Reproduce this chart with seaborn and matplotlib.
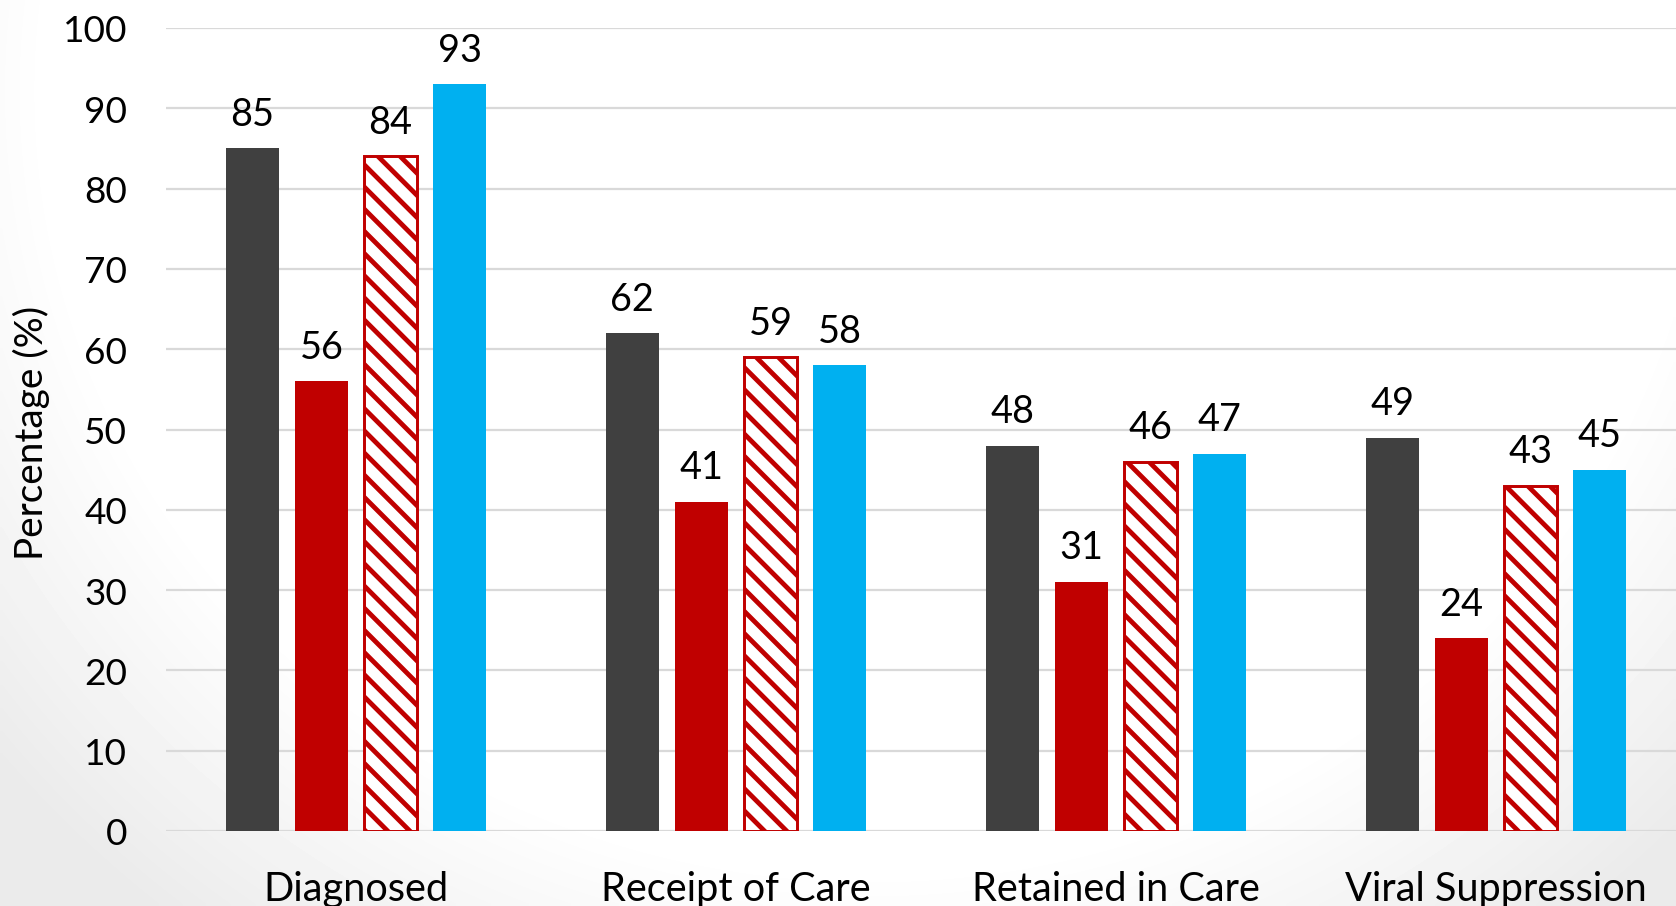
import numpy as np
import pandas as pd
import matplotlib
matplotlib.use("Agg")
import matplotlib.pyplot as plt
import seaborn as sns

# HIV care continuum stages and the percentage for each population group
stages = ["Diagnosed", "Receipt of Care", "Retained in Care", "Viral Suppression"]
groups = ["Group A", "Group B", "Group C", "Group D"]
group_a = [85, 62, 48, 49]
group_b = [56, 41, 31, 24]
group_c = [84, 59, 46, 43]
group_d = [93, 58, 47, 45]
y_ticks = [0, 10, 20, 30, 40, 50, 60, 70, 80, 90, 100]

face_colors = ["#404040", "#C00000", "#FFFFFF", "#00B0F0"]
red = "#C00000"

df = pd.DataFrame({
    "stage": stages * 4,
    "group": [g for g in groups for _ in stages],
    "pct": group_a + group_b + group_c + group_d,
})

sns.set_theme(style="white")
plt.rcParams["font.family"] = ["Lato", "DejaVu Sans"]
plt.rcParams["hatch.linewidth"] = 2.6
plt.rcParams["hatch.color"] = red

DPI = 133
W, H = 1676, 907
fig = plt.figure(figsize=(W / DPI, H / DPI), dpi=DPI)

# soft slide-style shading toward the lower corners
bg = fig.add_axes([0, 0, 1, 1], zorder=-10)
yy, xx = np.mgrid[0:1:200j, 0:1:360j]
d = np.sqrt(((xx - 0.52) / 0.60) ** 2 + ((yy - 0.10) / 1.05) ** 2)
shade = 1 - 0.08 * np.clip((d - 0.82) / 0.30, 0, 1)
bg.imshow(shade, cmap="gray", vmin=0, vmax=1, extent=[0, 1, 1, 0],
          aspect="auto", interpolation="bilinear")
bg.set_axis_off()

ax = fig.add_axes([166 / W, 1 - 832 / H, 1 - 166 / W, (832 - 29) / H])

sns.barplot(data=df, x="stage", y="pct", hue="group", order=stages,
            hue_order=groups, palette=face_colors, saturation=1,
            width=0.727, gap=0.23, legend=False, ax=ax)

for i, cont in enumerate(ax.containers):
    for bar in cont:
        bar.set_facecolor(face_colors[i])
        if i == 2:
            bar.set_edgecolor(red)
            bar.set_linewidth(1.6)
            bar.set_hatch("\\\\")
            if hasattr(bar, "set_hatchcolor"):
                bar.set_hatchcolor(red)
        else:
            bar.set_edgecolor(face_colors[i])
            bar.set_linewidth(0)
    ax.bar_label(cont, fmt="%d", padding=9, fontsize=20.5, color="#000000")

ax.set_ylim(0, 100)
ax.set_xlim(-0.5, 3 + (W - 1496) / 380)
ax.set_yticks(y_ticks)
ax.yaxis.grid(True, color="#D9D9D9", linewidth=1.2)
ax.set_axisbelow(True)
for s in ax.spines.values():
    s.set_visible(False)
ax.tick_params(axis="both", length=0, colors="#000000")
ax.tick_params(axis="y", pad=21, labelsize=20)
ax.tick_params(axis="x", pad=21, labelsize=21.5)
ax.set_xlabel("")
ax.set_ylabel("Percentage (%)", fontsize=21, color="#000000")
ax.yaxis.set_label_coords((50 - 166) / (W - 166), (H - 433 - (H - 832)) / (832 - 29))
ax.patch.set_alpha(0)

fig.savefig("out.png", dpi=DPI)
